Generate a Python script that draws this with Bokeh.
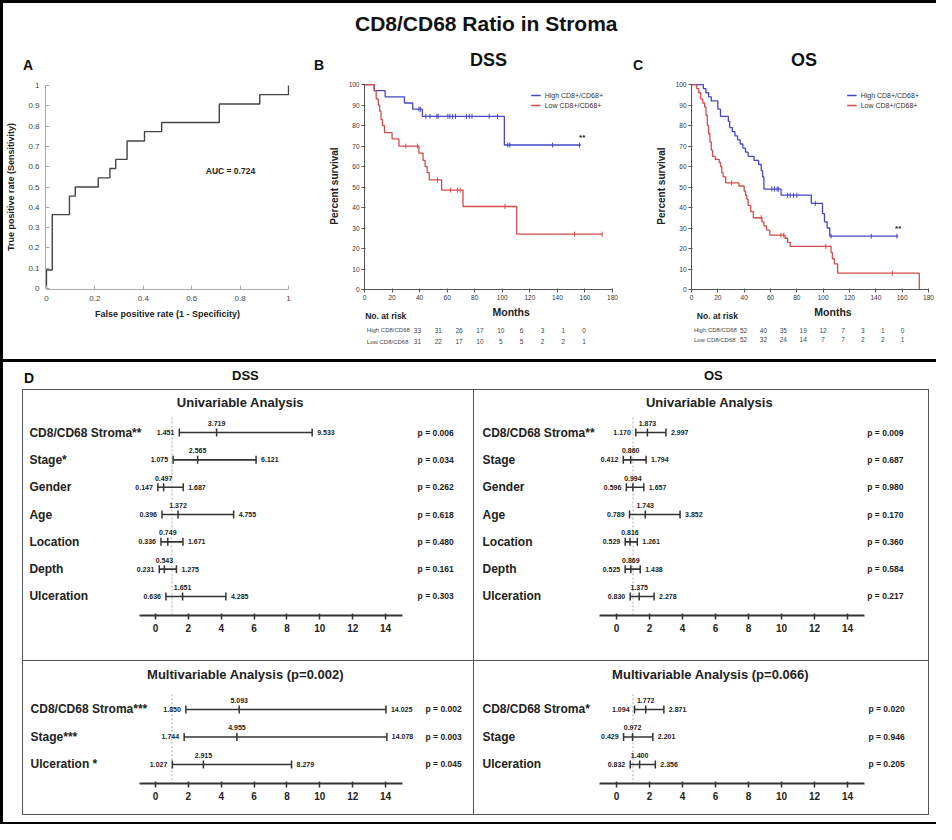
import math
from bokeh.plotting import figure
from bokeh.layouts import row, column
from bokeh.models import (Range1d, FixedTicker, Label, ColumnDataSource,
                          Legend, LegendItem, Div, Spacer)
from bokeh.embed import file_html
from bokeh.resources import INLINE
from bokeh.core.properties import value

FONT = "Liberation Sans"
BLUE = "#4646c8"
RED = "#d44a4a"
DARK = "#222222"

# ---------------- data ----------------
main_title = "CD8/CD68 Ratio in Stroma"

# Panel A : ROC curve
roc_fpr = [0, 0, 0.024, 0.095, 0.119, 0.214, 0.262, 0.286, 0.333, 0.405, 0.476, 0.714, 0.881, 1.0]
roc_tpr = [0, 0.091, 0.364, 0.455, 0.5, 0.545, 0.591, 0.636, 0.727, 0.773, 0.818, 0.909, 0.955, 1.0]
roc_auc = "AUC = 0.724"
roc_x_ticks = [0, 0.2, 0.4, 0.6, 0.8, 1]
roc_y_ticks = [0, 0.1, 0.2, 0.3, 0.4, 0.5, 0.6, 0.7, 0.8, 0.9, 1]

# Kaplan-Meier panels
km_x_ticks = [0, 20, 40, 60, 80, 100, 120, 140, 160, 180]
km_y_ticks = [0, 10, 20, 30, 40, 50, 60, 70, 80, 90, 100]
km_series = ["High CD8+/CD68+", "Low CD8+/CD68+"]
risk_groups = ["High CD8/CD68", "Low CD8/CD68"]
risk_months = [0, 20, 40, 60, 80, 100, 120, 140, 160]

dss_high_t = [0, 7, 15, 29, 35, 42, 101.5, 157]
dss_high_s = [100, 97, 94, 91, 88, 84.5, 70.5, 70.5]
dss_high_ct = [39.5, 40.5, 44.5, 47.5, 52.5, 53.5, 60.5, 62, 64, 66, 74, 76, 78, 90.5, 96.5,
               104, 105.5, 136.5, 156]
dss_high_cs = [88, 88, 84.5, 84.5, 84.5, 84.5, 84.5, 84.5, 84.5, 84.5, 84.5, 84.5, 84.5, 84.5, 84.5,
               70.5, 70.5, 70.5, 70.5]
dss_low_t = [0, 7, 8.5, 10, 11, 12, 13, 14.5, 20, 25, 39.5, 42.5, 44, 45.5, 47, 56, 71.5, 110.5, 172.5]
dss_low_s = [100, 97, 93, 90, 87, 83, 80, 76.5, 73.5, 70, 66.5, 63, 60, 57, 53.5, 48.5, 40.5, 27, 27]
dss_low_ct = [30, 38.5, 53, 62.5, 67.5, 69.5, 102, 152.5, 172.5]
dss_low_cs = [70, 70, 53.5, 48.5, 48.5, 48.5, 40.5, 27, 27]
dss_risk_high = [33, 31, 26, 17, 10, 6, 3, 1, 0]
dss_risk_low = [31, 22, 17, 10, 5, 5, 2, 2, 1]

os_high_t = [0, 9, 11, 13, 15, 20, 22, 28, 29, 31, 33, 35, 37, 39, 41, 43, 47.5, 51, 53, 54, 55,
             68, 91, 99.5, 101, 103, 105, 157]
os_high_s = [100, 98, 96, 94, 92, 88, 84.5, 82, 79, 77, 75, 73, 71, 69, 67, 65, 63, 61, 58, 55, 49,
             46, 42, 37, 33, 30, 26, 26]
os_high_ct = [61, 63, 65, 66, 73, 75, 77.5, 80, 94, 106, 136.5, 156]
os_high_cs = [49, 49, 49, 49, 46, 46, 46, 46, 42, 26, 26, 26]
os_low_t = [0, 4, 5.5, 7, 8.5, 10, 11, 12, 13, 14, 15, 16, 18, 21, 22, 23, 24, 26, 36, 40, 41, 42,
            43, 45, 47, 53.5, 55, 57, 59.5, 71, 73, 75, 106, 107, 108.5, 111, 173]
os_low_s = [100, 98, 96, 93, 91, 89, 85, 80, 76, 72, 68, 65, 63.5, 62, 60, 57, 55, 52, 50.5, 48, 46,
            44, 41, 38, 35, 33, 31, 29, 26.5, 25, 23, 21, 18, 15, 12.5, 8, 0]
os_low_ct = [30.5, 53, 68, 70, 102, 152.5]
os_low_cs = [52, 35, 26.5, 26.5, 21, 8]
os_risk_high = [52, 40, 35, 19, 12, 7, 3, 1, 0]
os_risk_low = [52, 32, 24, 14, 7, 7, 2, 2, 1]

# Panel D : forest plots (hazard ratio, 95% CI, p)
forest_ticks = [0, 2, 4, 6, 8, 10, 12, 14]
REF_HR = 1

dss_uni_labels = ["CD8/CD68 Stroma**", "Stage*", "Gender", "Age", "Location", "Depth", "Ulceration"]
dss_uni_hr = [3.719, 2.565, 0.497, 1.372, 0.749, 0.543, 1.651]
dss_uni_lo = [1.451, 1.075, 0.147, 0.396, 0.336, 0.231, 0.636]
dss_uni_hi = [9.533, 6.121, 1.687, 4.755, 1.671, 1.275, 4.285]
dss_uni_p = [0.006, 0.034, 0.262, 0.618, 0.480, 0.161, 0.303]

os_uni_labels = ["CD8/CD68 Stroma**", "Stage", "Gender", "Age", "Location", "Depth", "Ulceration"]
os_uni_hr = [1.873, 0.860, 0.994, 1.743, 0.816, 0.869, 1.375]
os_uni_lo = [1.170, 0.412, 0.596, 0.789, 0.529, 0.525, 0.830]
os_uni_hi = [2.997, 1.794, 1.657, 3.852, 1.261, 1.438, 2.278]
os_uni_p = [0.009, 0.687, 0.980, 0.170, 0.360, 0.584, 0.217]

dss_multi_labels = ["CD8/CD68 Stroma***", "Stage***", "Ulceration *"]
dss_multi_hr = [5.093, 4.955, 2.915]
dss_multi_lo = [1.850, 1.744, 1.027]
dss_multi_hi = [14.025, 14.078, 8.279]
dss_multi_p = [0.002, 0.003, 0.045]

os_multi_labels = ["CD8/CD68 Stroma*", "Stage", "Ulceration"]
os_multi_hr = [1.772, 0.972, 1.400]
os_multi_lo = [1.094, 0.429, 0.832]
os_multi_hi = [2.871, 2.201, 2.356]
os_multi_p = [0.020, 0.946, 0.205]

uni_title = "Univariable Analysis"
dss_multi_title = "Multivariable Analysis (p=0.002)"
os_multi_title = "Multivariable Analysis (p=0.066)"


# ---------------- helpers ----------------
def lab(p, x, y, text, size, bold=False, align="center", color=DARK):
    p.add_layout(Label(x=x, y=y, text=text, text_font=FONT, text_font_size=size,
                       text_font_style="bold" if bold else "normal", text_align=align,
                       text_baseline="middle", text_color=color))


def base_axes(p, line_color, tick_size, label_color):
    p.outline_line_color = None
    p.grid.visible = False
    p.axis.minor_tick_line_color = None
    p.axis.axis_line_color = line_color
    p.axis.major_tick_line_color = line_color
    p.axis.major_label_text_font = FONT
    p.axis.major_label_text_font_size = tick_size
    p.axis.major_label_text_color = label_color
    p.axis.axis_label_text_font = FONT
    p.axis.axis_label_text_font_style = "bold"
    p.axis.axis_label_text_color = DARK


def header(width, spans):
    html = ("<div style=\"position:relative;width:%dpx;height:34px;font-family:'Liberation Sans';"
            "font-weight:bold;color:#111;white-space:nowrap;\">" % width)
    for left, top, size, txt in spans:
        html += ("<span style='position:absolute;left:%dpx;top:%.1fpx;font-size:%dpx;"
                 "line-height:%dpx;'>%s</span>" % (left, top, size, size, txt))
    html += "</div>"
    return Div(text=html, width=width, height=34, margin=0)


# ---------------- Panel A ----------------
pA = figure(width=291, height=281, x_range=Range1d(-0.004, 1.004), y_range=Range1d(-0.005, 1.005),
            output_backend="svg", toolbar_location=None,
            min_border_left=42, min_border_right=5, min_border_top=6, min_border_bottom=70)
base_axes(pA, "#aaaaaa", "8px", "#444444")
pA.xaxis.ticker = FixedTicker(ticks=roc_x_ticks)
pA.yaxis.ticker = FixedTicker(ticks=roc_y_ticks)
pA.axis.bounds = (0, 1)
pA.axis.major_tick_in = 4
pA.axis.major_tick_out = 0
pA.xaxis.major_label_overrides = {0: "0", 1: "1"}
pA.yaxis.major_label_overrides = {0: "0", 1: "1"}
pA.axis.major_label_standoff = 6
pA.xaxis.axis_label = "False positive rate (1 - Specificity)"
pA.yaxis.axis_label = "True positive rate (Sensitivity)"
pA.axis.axis_label_text_font_size = "9px"
pA.xaxis.axis_label_standoff = 5
pA.yaxis.axis_label_standoff = 9
pA.step(roc_fpr, roc_tpr, mode="after", line_color="#444444", line_width=1.4)
lab(pA, 0.76, 0.58, roc_auc, "8.5px", bold=True)
panelA = column(header(291, [(20, 14, 14, "A")]), pA)


# ---------------- Panels B / C ----------------
def km_panel(width, bl, br, hi_t, hi_s, hi_ct, hi_cs, lo_t, lo_s, lo_ct, lo_cs, sig_xy):
    p = figure(width=width, height=227, x_range=Range1d(0, 180), y_range=Range1d(0, 101),
               output_backend="svg", toolbar_location=None,
               min_border_left=bl, min_border_right=br, min_border_top=4, min_border_bottom=16)
    base_axes(p, "#555555", "6.5px", "#333333")
    p.xaxis.ticker = FixedTicker(ticks=km_x_ticks)
    p.yaxis.ticker = FixedTicker(ticks=km_y_ticks)
    p.xaxis.bounds = (0, 180)
    p.yaxis.bounds = (0, 100)
    p.axis.major_tick_in = 1
    p.axis.major_tick_out = 3
    p.axis.major_label_standoff = 2
    p.yaxis.axis_label = "Percent survival"
    p.yaxis.axis_label_text_font_size = "10px"
    p.yaxis.axis_label_standoff = 6

    r1 = p.step(hi_t, hi_s, mode="after", line_color=BLUE, line_width=1.3)
    r2 = p.step(lo_t, lo_s, mode="after", line_color=RED, line_width=1.3)
    p.scatter(hi_ct, hi_cs, marker="dash", angle=math.pi / 2, size=5, line_color=BLUE, line_width=1)
    p.scatter(lo_ct, lo_cs, marker="dash", angle=math.pi / 2, size=5, line_color=RED, line_width=1)
    t1 = p.scatter(x=[], y=[], marker="triangle", size=5, color=BLUE)
    t2 = p.scatter(x=[], y=[], marker="triangle", size=5, color=RED)
    leg = Legend(items=[LegendItem(label=km_series[0], renderers=[r1, t1]),
                        LegendItem(label=km_series[1], renderers=[r2, t2])],
                 location="top_right", label_text_font=FONT, label_text_font_size="7px",
                 label_text_color="#333333", glyph_width=10, glyph_height=8, label_height=8,
                 label_standoff=4, spacing=2, padding=2, margin=9,
                 border_line_color=None, background_fill_alpha=0)
    p.add_layout(leg)
    lab(p, sig_xy[0], sig_xy[1], "**", "8px", bold=True)
    return p


def risk_panel(width, bl, br, frame_w, r_hi, r_lo, group_x, norisk_x, row_y):
    s = frame_w / 180.0
    p = figure(width=width, height=54, x_range=Range1d(-bl / s, 180 + br / s),
               y_range=Range1d(54, 0), output_backend="svg", toolbar_location=None,
               x_axis_location=None, y_axis_location=None,
               min_border_left=0, min_border_right=0, min_border_top=0, min_border_bottom=0)
    p.outline_line_color = None
    p.grid.visible = False
    tf = dict(text_font=value(FONT), text_baseline="middle")
    p.text(x=[90], y=[6.5], text=["Months"], text_font_size="10.5px", text_font_style="bold",
           text_align="center", text_color=DARK, **tf)
    p.text(x=[norisk_x], y=[10.5], text=["No. at risk"], text_font_size="8.5px",
           text_font_style="bold", text_align="left", text_color=DARK, **tf)
    for gname, counts, yy in ((risk_groups[0], r_hi, row_y[0]), (risk_groups[1], r_lo, row_y[1])):
        p.text(x=[group_x], y=[yy], text=[gname], text_font_size="6px", text_align="left",
               text_color="#444444", **tf)
        src = ColumnDataSource(dict(x=risk_months, y=[yy] * len(risk_months),
                                    t=[str(c) for c in counts]))
        p.text(x="x", y="y", text="t", source=src, text_font_size="6.5px", text_align="center",
               text_color="#444444", **tf)
    return p


pB = km_panel(328, 70, 10, dss_high_t, dss_high_s, dss_high_ct, dss_high_cs,
              dss_low_t, dss_low_s, dss_low_ct, dss_low_cs, (158, 74.4))
rB = risk_panel(328, 70, 10, 248, dss_risk_high, dss_risk_low, -48.6, -50.1, (24.5, 36))
panelB = column(header(328, [(20, 14, 14, "B"), (176, 6.5, 18, "DSS")]), pB, rB)

pC = km_panel(314, 69, 8, os_high_t, os_high_s, os_high_ct, os_high_cs,
              os_low_t, os_low_s, os_low_ct, os_low_cs, (157, 29.6))
rC = risk_panel(314, 69, 8, 237, os_risk_high, os_risk_low, -50, -47, (24.5, 34))
panelC = column(header(314, [(11, 14, 14, "C"), (169, 6.5, 18, "OS")]), pC, rC)


# ---------------- Panel D ----------------
def forest(width, height, xr, yr, mbb, labels, hr, lo, hi, pv, title, title_xy, label_x, p_x):
    p = figure(width=width, height=height, x_range=Range1d(*xr), y_range=Range1d(*yr),
               output_backend="svg", toolbar_location=None, y_axis_location=None,
               min_border_left=0, min_border_right=0, min_border_top=0, min_border_bottom=mbb)
    p.outline_line_color = None
    p.grid.visible = False
    ax = p.xaxis[0]
    ax.ticker = FixedTicker(ticks=forest_ticks)
    ax.bounds = (-1, 15)
    ax.axis_line_width = 2
    ax.axis_line_color = "#333333"
    ax.major_tick_in = 2
    ax.major_tick_out = 4
    ax.major_tick_line_width = 1.5
    ax.major_tick_line_color = "#333333"
    ax.minor_tick_line_color = None
    ax.major_label_text_font = FONT
    ax.major_label_text_font_size = "10px"
    ax.major_label_text_font_style = "bold"
    ax.major_label_text_color = DARK
    ax.major_label_standoff = 4

    ys = [-i for i in range(len(labels))]
    src = ColumnDataSource(dict(
        y=ys, hr=hr, lo=lo, hi=hi, name=labels,
        hr_t=[f"{v:.3f}" for v in hr], lo_t=[f"{v:.3f}" for v in lo],
        hi_t=[f"{v:.3f}" for v in hi], p_t=[f"p = {v:.3f}" for v in pv]))
    p.segment(x0=[REF_HR], y0=[0.55], x1=[REF_HR], y1=[yr[0]], line_color="#bbbbbb",
              line_width=1.2, line_dash="2 2")
    p.segment(x0="lo", y0="y", x1="hi", y1="y", source=src, line_color="#333333", line_width=1.6)
    for col in ("lo", "hi", "hr"):
        p.scatter(x=col, y="y", source=src, marker="dash", angle=math.pi / 2, size=8,
                  line_color="#333333", line_width=1.5)
    common = dict(source=src, text_font=value(FONT), text_baseline="middle", text_color=DARK)
    p.text(x=label_x, y="y", text="name", text_font_size="12px", text_font_style="bold",
           text_align="left", **common)
    p.text(x="lo", y="y", text="lo_t", x_offset=-5, text_font_size="7px", text_font_style="bold",
           text_align="right", **common)
    p.text(x="hi", y="y", text="hi_t", x_offset=5, text_font_size="7px", text_font_style="bold",
           text_align="left", **common)
    p.text(x="hr", y="y", text="hr_t", y_offset=-9, text_font_size="7px", text_font_style="bold",
           text_align="center", **common)
    p.text(x=p_x, y="y", text="p_t", text_font_size="8.5px", text_font_style="bold",
           text_align="left", **common)
    p.text(x=[title_xy[0]], y=[title_xy[1]], text=[title], text_font=value(FONT),
           text_font_size="13px", text_font_style="bold", text_align="center",
           text_baseline="middle", text_color=DARK)
    return p


UNI_Y = (-6.696, 1.538)
MULTI_Y = (-2.691, 1.745)
DSS_X = (-8.03, 19.35)
OS_X = (-8.606, 18.909)

f_dss_uni = forest(450, 270, DSS_X, UNI_Y, 45, dss_uni_labels, dss_uni_hr, dss_uni_lo, dss_uni_hi,
                   dss_uni_p, uni_title, (5.17, 1.10), -7.67, 15.95)
f_dss_multi = forest(450, 153, DSS_X, MULTI_Y, 31, dss_multi_labels, dss_multi_hr, dss_multi_lo,
                     dss_multi_hi, dss_multi_p, dss_multi_title, (5.48, 1.272), -7.6, 16.43)
f_os_uni = forest(454, 270, OS_X, UNI_Y, 45, os_uni_labels, os_uni_hr, os_uni_lo, os_uni_hi,
                  os_uni_p, uni_title, (5.64, 1.10), -8.12, 15.2)
f_os_multi = forest(454, 153, OS_X, MULTI_Y, 31, os_multi_labels, os_multi_hr, os_multi_lo,
                    os_multi_hi, os_multi_p, os_multi_title, (5.7, 1.272), -8.12, 15.27)

BOX = "1px solid #555555"


def wrap(fig, **sides):
    st = {f"border-{k}": BOX for k in sides}
    return column(fig, styles=st)


title_div = Div(
    text=("<div style='position:relative;width:933px;height:41px;'>"
          "<span style=\"position:absolute;left:352px;top:10px;font-family:'Liberation Sans';"
          "font-size:21px;font-weight:bold;line-height:21px;white-space:nowrap;color:#111;\">"
          + main_title + "</span></div>"),
    width=933, height=41, margin=0)

header_div = Div(
    text=("<div style=\"position:relative;width:933px;height:27px;font-family:'Liberation Sans';"
          "font-weight:bold;color:#111;line-height:14px;white-space:nowrap;\">"
          "<span style='position:absolute;left:21px;top:9px;font-size:14px;'>D</span>"
          "<span style='position:absolute;left:229px;top:7px;font-size:13px;'>DSS</span>"
          "<span style='position:absolute;left:701px;top:7px;font-size:13px;'>OS</span>"
          "</div>"),
    width=933, height=27, margin=0)

top = column(title_div, row(panelA, panelB, panelC),
             styles={"border-top": "3px solid #000", "border-left": "3px solid #000",
                     "border-bottom": "3px solid #000"})

grid = row(Spacer(width=19, height=426),
           column(wrap(f_dss_uni, top=1, bottom=1, left=1, right=1),
                  wrap(f_dss_multi, left=1, right=1, bottom=1)),
           column(wrap(f_os_uni, top=1, right=1, bottom=1),
                  wrap(f_os_multi, right=1, bottom=1)))

bottom = column(header_div, grid, Spacer(width=10, height=7),
                styles={"border-left": "3px solid #000", "border-bottom": "2px solid #000"})

root = column(top, bottom)

open("out.html", "w").write(file_html(root, INLINE))
